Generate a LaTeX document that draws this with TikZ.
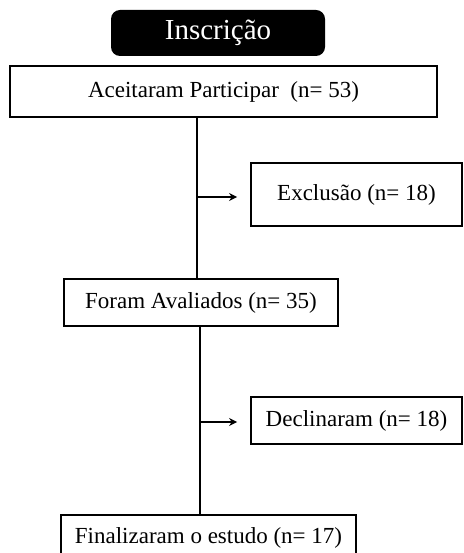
\documentclass[tikz,border=0pt]{standalone}
\usepackage{fontspec}
\setmainfont{Liberation Serif}
\usetikzlibrary{arrows.meta, calc}

\begin{document}
\begin{tikzpicture}[x=1pt, y=-1pt,
	box/.style={draw, line width=1.8pt, inner sep=0pt,
        font=\fontsize{23}{27}\selectfont},
	link/.style={line width=1.8pt},
	arr/.style={line width=1.8pt, -{Stealth[length=8pt, width=8pt]}}]
	\useasboundingbox (0,0) rectangle (463,553);
	\node (inscr) at (218,33) [rounded corners=9pt, fill=black, text=white,
        minimum width=214pt, minimum height=46pt,
        font=\fontsize{29}{33}\selectfont] {Inscrição};
	\node (aceit) at (223.5,91.5) [box, minimum width=427pt,
        minimum height=51pt] {Aceitaram Participar~~(n= 53)};
	\node (excl) at (356.5,194.5) [box, minimum width=211pt,
        minimum height=63pt] {Exclusão (n= 18)};
	\node (aval) at (201,302.5) [box, minimum width=274pt,
        minimum height=47pt] {Foram Avaliados (n= 35)};
	\node (decl) at (356.5,420.5) [box, minimum width=211pt,
        minimum height=47pt] {Declinaram (n= 18)};
	\node (final) at (208.5,538) [box, minimum width=295pt,
        minimum height=46pt] {Finalizaram o estudo (n= 17)};
	\coordinate (j1) at (197,197);
	\coordinate (j2) at (200,422);
	\draw[link] (aceit.south -| j1) -- (aval.north -| j1);
	\draw[arr, shorten >=13pt] (j1) -- (excl.west |- j1);
	\draw[link] (aval.south -| j2) -- (final.north -| j2);
	\draw[arr, shorten >=13pt] (j2) -- (decl.west |- j2);
\end{tikzpicture}
\end{document}
